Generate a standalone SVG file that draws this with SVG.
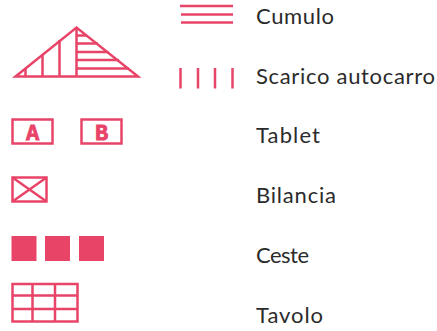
<svg xmlns="http://www.w3.org/2000/svg" width="437" height="331" viewBox="0 0 437 331">
<style>
.s{fill:none;stroke:#e84468;stroke-width:2.500}
.f{fill:#e84468}
.t{font-family:"Lato","Noto Sans",sans-serif;font-size:22px;fill:#2b2b2b}
.l{font-family:"Liberation Mono",monospace;font-weight:bold;font-size:22px;fill:#e84468;stroke:#e84468;stroke-width:.8;text-anchor:middle}
</style>
<g id="cumulo-icon" class="s">
<path d="M180 6H233M181 14.500H233M181 22.500H233"/>
</g>
<g id="scarico-icon" class="s">
<path d="M180.500 68V88.500M198 68V88.500M215 68V88.500M232.500 68V88.500"/>
</g>
<g id="triangle-icon" class="s">
<path d="M15.500 76.500H138L76.500 27.500Z"/>
<path d="M76.500 27V76.500M59.500 40V76.500M42.500 54V76.500M25.500 68V76.500"/>
<path d="M76.500 35.500H87M76.500 43.500H98M76.500 52H108.500M76.500 60H119M76.500 68.500H129"/>
</g>
<g id="tablet-a">
<rect class="s" x="12.500" y="119.500" width="40" height="24"/>
<text class="l" x="32.500" y="139.500">A</text>
</g>
<g id="tablet-b">
<rect class="s" x="81.500" y="119.500" width="40" height="24"/>
<text class="l" x="101.500" y="139.500">B</text>
</g>
<g id="bilancia-icon" class="s">
<rect x="12.500" y="177.500" width="34" height="24"/>
<path d="M12.500 177.500L46.500 201.500M46.500 177.500L12.500 201.500"/>
</g>
<g id="ceste-icon" class="f">
<rect x="11.500" y="236" width="25" height="25"/>
<rect x="45" y="236" width="25" height="25"/>
<rect x="79" y="236" width="25" height="25"/>
</g>
<g id="tavolo-icon" class="s">
<rect x="12.500" y="284" width="65" height="37.500"/>
<path d="M32.500 284V321.500M55 284V321.500M12.500 295.500H77.500M12.500 309H77.500"/>
</g>
<g id="labels">
<text class="t" x="256" y="24" textLength="78">Cumulo</text>
<text class="t" x="256" y="84" textLength="179">Scarico autocarro</text>
<text class="t" x="256" y="143" textLength="64">Tablet</text>
<text class="t" x="256" y="203" textLength="80">Bilancia</text>
<text class="t" x="256" y="262.500" textLength="53">Ceste</text>
<text class="t" x="256" y="322.500" textLength="67">Tavolo</text>
</g>
</svg>
